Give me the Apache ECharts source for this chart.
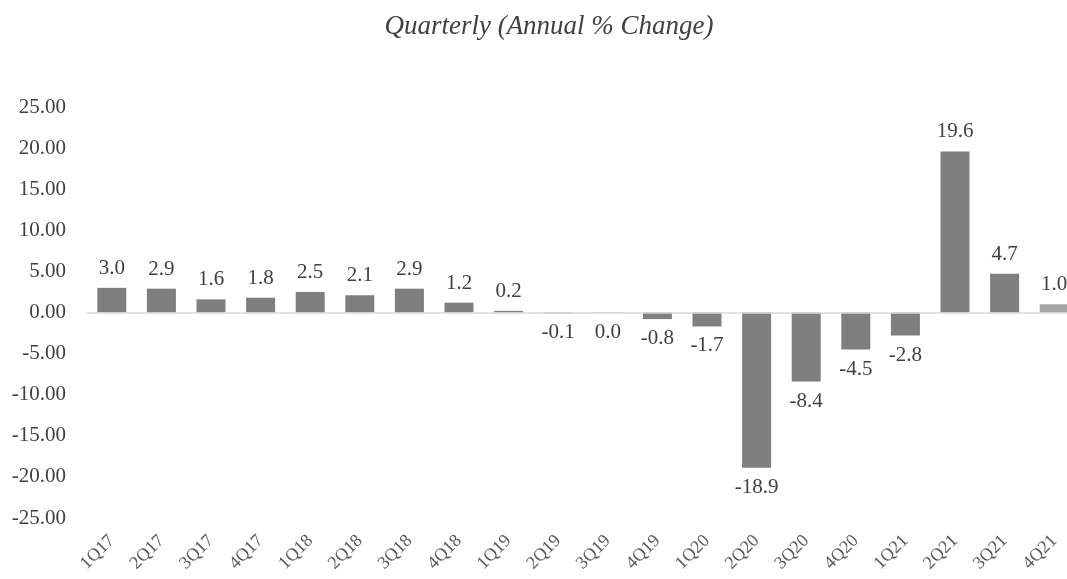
<!DOCTYPE html>
<html>
<head>
<meta charset="utf-8">
<script src="https://cdn.jsdelivr.net/npm/echarts@6/dist/echarts.min.js"></script>
<style>
  html, body { margin: 0; padding: 0; background: #fff; overflow: hidden; }
  /* a bit wider than the window: the last bar gets cut off like in the source */
  #chart { width: 1079px; height: 579px; }
</style>
</head>
<body>
<div id="chart"></div>
<script>
// quarters on the x axis
const quarters = ['1Q17', '2Q17', '3Q17', '4Q17', '1Q18', '2Q18', '3Q18', '4Q18', '1Q19', '2Q19',
  '3Q19', '4Q19', '1Q20', '2Q20', '3Q20', '4Q20', '1Q21', '2Q21', '3Q21', '4Q21'];
// annual % change (3Q19 is a hair below zero, printed as 0.0)
const change = [3.0, 2.9, 1.6, 1.8, 2.5, 2.1, 2.9, 1.2, 0.2, -0.1,
  -0.04, -0.8, -1.7, -18.9, -8.4, -4.5, -2.8, 19.6, 4.7, 1.0];
const yTicks = { min: -25, max: 25, step: 5 };

const FONT = '"Liberation Serif", "DejaVu Serif", serif';
const TEXT = '#404040';

const barData = change.map((v, i) => ({
  value: v,
  itemStyle: { color: i === change.length - 1 ? '#a6a6a6' : '#7f7f7f' },
  label: { position: v >= 0 ? 'top' : 'bottom' }
}));

const chart = echarts.init(document.getElementById('chart'));
chart.setOption({
  animation: false,
  backgroundColor: '#fff',
  title: {
    text: 'Quarterly (Annual % Change)',
    left: 544,
    top: 8,
    textAlign: 'center',
    textStyle: {
      fontFamily: FONT,
      fontStyle: 'italic',
      fontWeight: 'normal',
      fontSize: 27,
      color: TEXT
    }
  },
  grid: { left: 87, top: 107, right: 0, bottom: 61, containLabel: false },
  xAxis: {
    type: 'category',
    data: quarters,
    axisLine: { show: false, onZero: false },
    axisTick: { show: false },
    axisLabel: {
      rotate: 45,
      margin: 20,
      interval: 0,
      fontFamily: FONT,
      fontSize: 18,
      color: '#595959'
    }
  },
  yAxis: {
    type: 'value',
    min: yTicks.min,
    max: yTicks.max,
    interval: yTicks.step,
    splitLine: { show: false },
    axisLine: { show: false },
    axisTick: { show: false },
    axisLabel: {
      margin: 21,
      fontFamily: FONT,
      fontSize: 21,
      color: TEXT,
      formatter: v => v.toFixed(2)
    }
  },
  series: [{
    type: 'bar',
    data: barData,
    barWidth: 29,
    label: {
      show: true,
      distance: 9,
      fontFamily: FONT,
      fontSize: 21,
      color: TEXT,
      formatter: p => Math.abs(p.value) < 0.05 ? '0.0' : p.value.toFixed(1)
    },
    markLine: {
      silent: true,
      symbol: ['none', 'none'],
      label: { show: false },
      lineStyle: { color: '#d9d9d9', type: 'solid', width: 1.5 },
      data: [{ yAxis: 0 }]
    }
  }]
});
</script>
</body>
</html>
